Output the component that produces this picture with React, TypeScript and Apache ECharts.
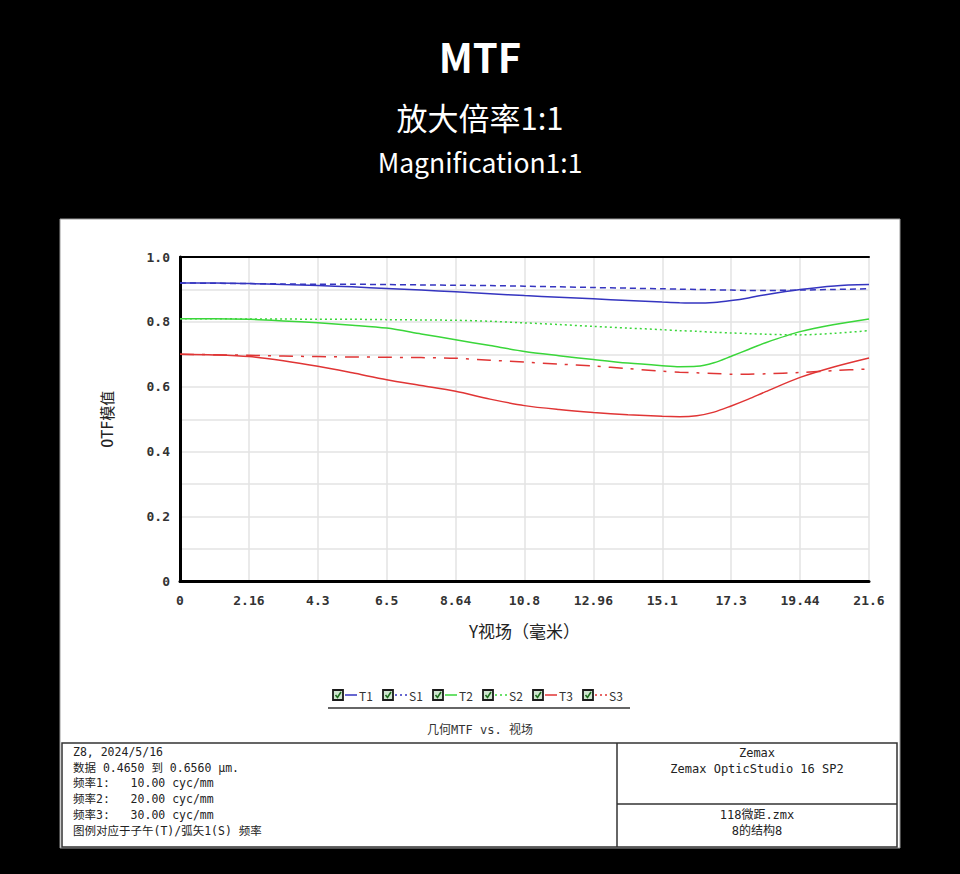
import React, { useEffect, useRef } from "react";
import * as echarts from "echarts";

// ---- data ----
const xs = [0, 1.08, 2.16, 3.24, 4.32, 5.4, 6.48, 7.56, 8.64, 9.72, 10.8, 11.88, 12.96, 14.04, 15.12, 15.66, 16.2, 16.74, 17.28, 17.82, 18.36, 19.44, 20.52, 21.6];
const t1 = [0.92, 0.92, 0.918, 0.915, 0.912, 0.908, 0.903, 0.898, 0.893, 0.887, 0.881, 0.876, 0.871, 0.866, 0.861, 0.859, 0.858, 0.86, 0.866, 0.874, 0.884, 0.9, 0.911, 0.915];
const s1 = [0.92, 0.919, 0.918, 0.917, 0.916, 0.916, 0.915, 0.914, 0.913, 0.912, 0.91, 0.908, 0.906, 0.904, 0.902, 0.901, 0.9, 0.899, 0.898, 0.897, 0.897, 0.898, 0.9, 0.902];
const t2 = [0.81, 0.81, 0.808, 0.803, 0.797, 0.79, 0.781, 0.763, 0.745, 0.727, 0.709, 0.696, 0.684, 0.673, 0.665, 0.662, 0.663, 0.674, 0.694, 0.715, 0.736, 0.77, 0.792, 0.809];
const s2 = [0.81, 0.81, 0.809, 0.809, 0.808, 0.808, 0.807, 0.806, 0.805, 0.802, 0.797, 0.792, 0.786, 0.781, 0.776, 0.773, 0.771, 0.768, 0.766, 0.764, 0.762, 0.76, 0.765, 0.773];
const t3 = [0.7, 0.698, 0.693, 0.68, 0.663, 0.643, 0.622, 0.604, 0.586, 0.562, 0.542, 0.53, 0.521, 0.514, 0.509, 0.508, 0.511, 0.522, 0.541, 0.562, 0.585, 0.629, 0.662, 0.689];
const s3 = [0.7, 0.699, 0.697, 0.695, 0.693, 0.692, 0.691, 0.69, 0.688, 0.682, 0.676, 0.67, 0.664, 0.656, 0.648, 0.645, 0.643, 0.641, 0.639, 0.639, 0.64, 0.644, 0.65, 0.655];

const seriesNames = ["T1", "S1", "T2", "S2", "T3", "S3"];
const seriesValues = [t1, s1, t2, s2, t3, s3];
const seriesColors = ["#3535c0", "#3535c0", "#3ad63a", "#3ad63a", "#e03535", "#e03535"];
const seriesDash: any[] = ["solid", [6, 4], "solid", [2, 3], "solid", [14, 8, 3, 8]];
const legendDash: any[] = ["solid", [2, 3], "solid", [2, 3], "solid", [2, 3]];

const xTickLabels = ["0", "2.16", "4.3", "6.5", "8.64", "10.8", "12.96", "15.1", "17.3", "19.44", "21.6"];
const yTickLabels = ["0", "0.2", "0.4", "0.6", "0.8", "1.0"];

const titleMain = "MTF";
const titleCn = "放大倍率1:1";
const titleEn = "Magnification1:1";
const yAxisName = "OTF模值";
const xAxisName = "Y视场（毫米）";
const caption = "几何MTF vs. 视场";
const tableLeftLines = [
  "Z8, 2024/5/16",
  "数据 0.4650 到 0.6560 μm.",
  "频率1:   10.00 cyc/mm",
  "频率2:   20.00 cyc/mm",
  "频率3:   30.00 cyc/mm",
  "图例对应于子午(T)/弧矢1(S) 频率",
];
const tableRightTop = ["Zemax", "Zemax OpticStudio 16 SP2"];
const tableRightBottom = ["118微距.zmx", "8的结构8"];

const MONO = "'DejaVu Sans Mono', 'Liberation Mono', 'Noto Sans CJK SC', monospace";
const CJK = "'Noto Sans CJK SC', 'Noto Sans', sans-serif";

export default function App() {
  const ref = useRef<HTMLDivElement>(null);
  useEffect(() => {
    if (!ref.current) return;
    const chart = echarts.init(ref.current, undefined, { renderer: "svg" });

    const graphic: any[] = [];
    // white panel
    graphic.push({
      type: "rect", z: -10,
      shape: { x: 60, y: 219, width: 840, height: 629 },
      style: { fill: "#ffffff", stroke: "#999", lineWidth: 1 },
    });
    // titles
    graphic.push({ type: "text", x: 480, y: 56, style: { text: titleMain, fill: "#fff", font: `bold 40px ${CJK}`, textAlign: "center", textVerticalAlign: "middle" } });
    graphic.push({ type: "text", x: 480, y: 116, style: { text: titleCn, fill: "#fff", font: `31px ${CJK}`, textAlign: "center", textVerticalAlign: "middle" } });
    graphic.push({ type: "text", x: 480, y: 161, style: { text: titleEn, fill: "#fff", font: `26.5px ${CJK}`, textAlign: "center", textVerticalAlign: "middle" } });

    // legend
    seriesNames.forEach((name, i) => {
      const x0 = 333 + i * 50;
      const yc = 695;
      graphic.push({ type: "rect", shape: { x: x0, y: yc - 5, width: 10, height: 10 }, style: { fill: "#cfe6cf", stroke: "#1a1a1a", lineWidth: 1.8 } });
      graphic.push({ type: "polyline", shape: { points: [[x0 + 2.5, yc], [x0 + 4.5, yc + 2.5], [x0 + 8, yc - 3]] }, style: { stroke: "#1e6e1e", lineWidth: 1.6, fill: "none" } });
      graphic.push({ type: "line", shape: { x1: x0 + 12, y1: yc, x2: x0 + 24, y2: yc }, style: { stroke: seriesColors[i], lineWidth: 1.5, lineDash: legendDash[i] } });
      graphic.push({ type: "text", x: x0 + 26, y: yc, style: { text: name, fill: "#333", font: `12px ${CJK}`, textAlign: "left", textVerticalAlign: "middle" } });
    });
    graphic.push({ type: "line", shape: { x1: 328, y1: 708, x2: 630, y2: 708 }, style: { stroke: "#333", lineWidth: 1.5 } });
    graphic.push({ type: "text", x: 480, y: 730, style: { text: caption, fill: "#333", font: `12px ${MONO}`, textAlign: "center", textVerticalAlign: "middle" } });

    // info table
    graphic.push({ type: "rect", shape: { x: 62, y: 743, width: 835, height: 104 }, style: { fill: "none", stroke: "#333", lineWidth: 1.5 } });
    graphic.push({ type: "line", shape: { x1: 617, y1: 743, x2: 617, y2: 847 }, style: { stroke: "#333", lineWidth: 1.5 } });
    graphic.push({ type: "line", shape: { x1: 617, y1: 804, x2: 897, y2: 804 }, style: { stroke: "#333", lineWidth: 1.5 } });
    tableLeftLines.forEach((t, i) => {
      graphic.push({ type: "text", x: 73, y: 752 + i * 15.7, style: { text: t, fill: "#222", font: `11.5px ${MONO}`, textAlign: "left", textVerticalAlign: "middle" } });
    });
    tableRightTop.forEach((t, i) => {
      graphic.push({ type: "text", x: 757, y: 753 + i * 16, style: { text: t, fill: "#222", font: `12px ${MONO}`, textAlign: "center", textVerticalAlign: "middle" } });
    });
    tableRightBottom.forEach((t, i) => {
      graphic.push({ type: "text", x: 757, y: 815 + i * 16, style: { text: t, fill: "#222", font: `12px ${MONO}`, textAlign: "center", textVerticalAlign: "middle" } });
    });

    const option: any = {
      animation: false,
      backgroundColor: "#000",
      grid: { left: 180, top: 257, width: 689, height: 324.5, containLabel: false },
      xAxis: [
        {
          type: "value", min: 0, max: 21.6, interval: 2.16, position: "bottom",
          name: xAxisName, nameLocation: "middle", nameGap: 40,
          nameTextStyle: { fontFamily: CJK, fontSize: 17, color: "#222" },
          axisLine: { show: true, onZero: false, lineStyle: { color: "#000", width: 3 } },
          axisTick: { show: false },
          axisLabel: {
            margin: 12, color: "#333", fontFamily: MONO, fontSize: 13, fontWeight: "bold",
            showMaxLabel: true, showMinLabel: true,
            formatter: (v: number) => xTickLabels[Math.round(v / 2.16)] ?? "",
          },
          splitLine: { show: true, lineStyle: { color: "#e3e3e3", width: 1.5 } },
        },
        {
          type: "value", min: 0, max: 21.6, interval: 2.16, position: "top",
          axisLine: { show: true, onZero: false, lineStyle: { color: "#000", width: 2 } },
          axisTick: { show: false }, axisLabel: { show: false }, splitLine: { show: false },
        },
      ],
      yAxis: {
        type: "value", min: 0, max: 1, interval: 0.1,
        name: yAxisName, nameLocation: "middle", nameGap: 65, nameRotate: 90,
        nameTextStyle: { fontFamily: MONO, fontSize: 15, color: "#222" },
        axisLine: { show: true, onZero: false, lineStyle: { color: "#000", width: 3 } },
        axisTick: { show: false },
        axisLabel: {
          margin: 10, color: "#333", fontFamily: MONO, fontSize: 13, fontWeight: "bold",
          formatter: (v: number) => {
            const k = Math.round(v * 10);
            return k % 2 === 0 ? yTickLabels[k / 2] : "";
          },
        },
        splitLine: { show: true, lineStyle: { color: "#e3e3e3", width: 1.5 } },
      },
      series: seriesNames.map((name, i) => ({
        name, type: "line", xAxisIndex: 0,
        data: xs.map((x, j) => [x, seriesValues[i][j]]),
        showSymbol: false, symbol: "none", smooth: 0.3,
        lineStyle: { color: seriesColors[i], width: 1.5, type: seriesDash[i] },
        z: i % 2 === 0 ? 3 : 4,
      })),
      graphic,
    };
    chart.setOption(option);
    return () => chart.dispose();
  }, []);
  return <div ref={ref} style={{ position: "fixed", left: 0, top: 0, width: 960, height: 874 }} />;
}
